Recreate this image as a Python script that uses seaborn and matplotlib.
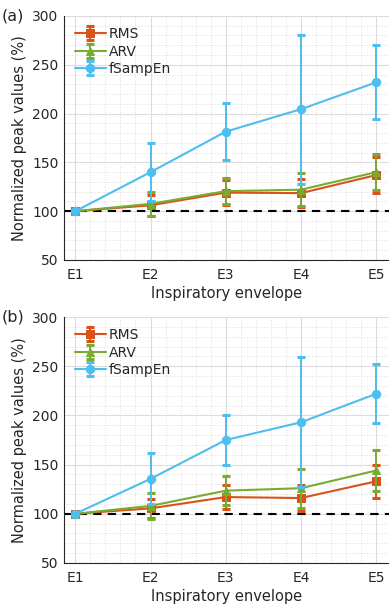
import numpy as np
import pandas as pd
import matplotlib
matplotlib.use("Agg")
import matplotlib.pyplot as plt
from matplotlib.ticker import MultipleLocator
import seaborn as sns

# peak values per inspiratory envelope, mean and SD
envelopes = ["E1", "E2", "E3", "E4", "E5"]
series_names = ["RMS", "ARV", "fSampEn"]

# panel (a)
rms_a = [100, 106, 119, 118.5, 137]
rms_a_sd = [0, 10.5, 13, 14.5, 18.5]
arv_a = [100, 107.5, 120.5, 122, 140]
arv_a_sd = [0, 12, 13, 17, 18.5]
fse_a = [100, 140, 181.5, 204.5, 232]
fse_a_sd = [0, 30, 29, 76.5, 38]

# panel (b)
rms_b = [100, 105.5, 117, 116, 133]
rms_b_sd = [0, 9.5, 12.5, 13, 17]
arv_b = [100, 108, 123.5, 126, 144]
arv_b_sd = [0, 13, 15, 20, 21]
fse_b = [100, 135.5, 175, 193, 222]
fse_b_sd = [0, 26, 25.5, 66, 30]

colors = {"RMS": "#D95319", "ARV": "#77AC30", "fSampEn": "#4DBEEE"}
markers = {"RMS": "s", "ARV": "^", "fSampEn": "o"}

panels = [
    ("(a)", {"RMS": (rms_a, rms_a_sd), "ARV": (arv_a, arv_a_sd), "fSampEn": (fse_a, fse_a_sd)}),
    ("(b)", {"RMS": (rms_b, rms_b_sd), "ARV": (arv_b, arv_b_sd), "fSampEn": (fse_b, fse_b_sd)}),
]

sns.set_style("white")
plt.rcParams["font.family"] = ["DejaVu Sans"]
plt.rcParams["font.size"] = 10

fig = plt.figure(figsize=(3.89, 6.12), dpi=100)
axes = [fig.add_axes([0.1645, 0.5752, 0.8355, 0.3987]),
        fig.add_axes([0.1645, 0.0801, 0.8355, 0.4019])]

x = np.arange(1, len(envelopes) + 1)

for ax, (tag, data) in zip(axes, panels):
    # long-form table for seaborn
    rows = []
    for name in series_names:
        for xi, v in zip(x, data[name][0]):
            rows.append({"x": xi, "value": v, "series": name})
    df = pd.DataFrame(rows)

    handles = []
    for k, name in enumerate(series_names):
        mean, sd = data[name]
        eb = ax.errorbar(x, mean, yerr=sd, fmt="none", ecolor=colors[name],
                         elinewidth=1.4, capsize=3, capthick=2.2, zorder=3 + k)
        sns.lineplot(data=df[df["series"] == name], x="x", y="value",
                     color=colors[name], marker=markers[name], markersize=6,
                     markeredgecolor=colors[name], linewidth=1.5, ax=ax,
                     zorder=3 + k, legend=False)
        handles.append((ax.lines[-1], eb))

    ax.axhline(100, color="black", linestyle=(0, (4, 3)), linewidth=1.5, zorder=2)

    ax.set_xlim(0.85, 5.17)
    ax.set_ylim(50, 300)
    ax.set_xticks(x)
    ax.set_xticklabels(envelopes)
    ax.set_yticks(np.arange(50, 301, 50))
    ax.xaxis.set_minor_locator(MultipleLocator(0.2))
    ax.yaxis.set_minor_locator(MultipleLocator(10))
    ax.grid(which="major", color="#dcdcdc", linewidth=0.8, linestyle="-")
    ax.grid(which="minor", color="#d3d3d3", linewidth=0.6, linestyle=(0, (1, 2)))
    ax.set_axisbelow(True)

    for s in ["top", "right"]:
        ax.spines[s].set_visible(False)
    for s in ["left", "bottom"]:
        ax.spines[s].set_color("#262626")
        ax.spines[s].set_linewidth(0.8)
    ax.tick_params(which="major", direction="in", length=4, width=0.8,
                   colors="#262626", labelsize=10, pad=6)
    ax.tick_params(axis="y", pad=4)
    ax.tick_params(which="minor", length=0)

    ax.set_xlabel("Inspiratory envelope", fontsize=10.5, color="#262626", labelpad=3)
    ax.set_ylabel("Normalized peak values (%)", fontsize=10.5, color="#262626", labelpad=4)

    ax.legend(handles, series_names, loc="upper left", frameon=False,
              handlelength=2.2, fontsize=10, borderaxespad=0.4,
              handletextpad=0.2, labelspacing=0.25)

    pos = ax.get_position()
    fig.text(0.003, pos.y1, tag, fontsize=11.5, color="#262626", va="center", ha="left")

fig.savefig("out.png", dpi=100)
